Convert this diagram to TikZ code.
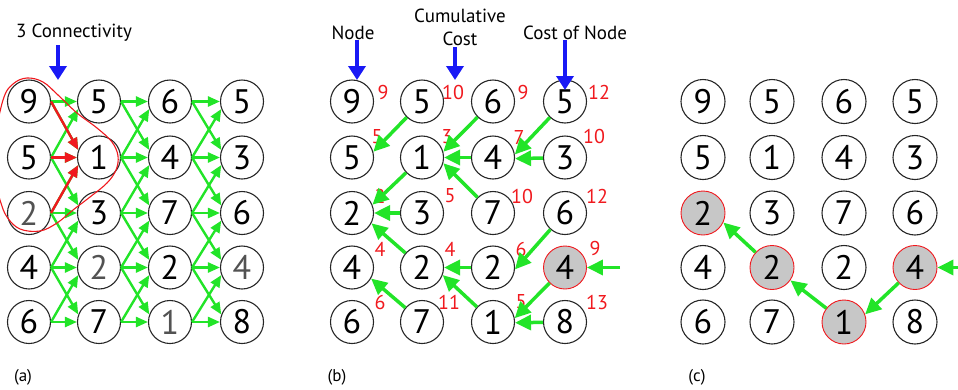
\documentclass[tikz,border=0pt]{standalone}
\usepackage{fontspec}
\setmainfont{PT Sans}
\usetikzlibrary{arrows.meta}
\definecolor{grn}{RGB}{34,228,40}
\definecolor{rd}{RGB}{240,25,30}
\definecolor{blu}{RGB}{25,25,245}
\begin{document}
\begin{tikzpicture}[x=1pt,y=-1pt,
  cir/.style={circle,draw=black!85,line width=1.1pt,minimum size=43pt,inner sep=0pt,font=\fontsize{34}{34}\selectfont},
  circ/.style={cir,minimum size=44pt},
  dim/.style={text=black!68},
  pth/.style={fill=black!22,draw=rd,line width=0.9pt},
  lbl/.style={font=\fontsize{19}{23}\selectfont,align=center,inner sep=0pt},
  cost/.style={text=rd,font=\fontsize{20}{20}\selectfont,inner sep=0pt},
  plbl/.style={font=\fontsize{17}{17}\selectfont,inner sep=0pt},
  ga/.style={draw=grn,line width=2.4pt,-{Triangle[length=12pt,width=10pt]}},
  ra/.style={draw=rd,line width=2.4pt,-{Triangle[length=12pt,width=10pt]}},
  gb/.style={draw=grn,line width=3.5pt,-{Triangle[length=16pt,width=15pt]}},
  ba/.style={draw=blu,line width=3.5pt,-{Triangle[length=14pt,width=17pt]}},
  curve/.style={draw=rd,line width=1.1pt}
]
\useasboundingbox (0,0) rectangle (958,389);

% ---------------- panel (a)
\node[cir] (a11) at (29,101.5) {9};
\node[cir] (a12) at (99,101.5) {5};
\node[cir] (a13) at (170,101.5) {6};
\node[cir] (a14) at (242,101.5) {5};
\node[cir] (a21) at (29,157.5) {5};
\node[cir] (a22) at (99,157.5) {1};
\node[cir] (a23) at (170,157.5) {4};
\node[cir] (a24) at (242,157.5) {3};
\node[cir,dim] (a31) at (29,213) {2};
\node[cir] (a32) at (99,213) {3};
\node[cir] (a33) at (170,213) {7};
\node[cir] (a34) at (242,213) {6};
\node[cir] (a41) at (29,267.5) {4};
\node[cir,dim] (a42) at (99,267.5) {2};
\node[cir] (a43) at (170,267.5) {2};
\node[cir,dim] (a44) at (242,267.5) {4};
\node[cir] (a51) at (29,322) {6};
\node[cir] (a52) at (99,322) {7};
\node[cir,dim] (a53) at (170,322) {1};
\node[cir] (a54) at (242,322) {8};

\foreach \j [evaluate=\j as \k using int(\j+1)] in {1,2,3} {
  \foreach \i [evaluate=\i as \u using int(\i-1), evaluate=\i as \d using int(\i+1)] in {1,2,3,4,5} {
    \draw[ga] (a\i\j.east) -- (a\i\k.west);
    \ifnum\i>1 \draw[ga] (a\i\j.east) -- (a\u\k.200); \fi
    \ifnum\i<5 \draw[ga] (a\i\j.east) -- (a\d\k.160); \fi
  }
}
\draw[ra] (a11.east) -- (a22.160);
\draw[ra] (a21.east) -- (a22.west);
\draw[ra] (a31.east) -- (a22.200);

\begin{scope}
\clip (0,0) rectangle (958,389);
\draw[curve] plot[smooth,tension=0.6] coordinates {(-8,150) (3,100) (13,84) (27,78) (43,82) (58,95) (77,113) (97,128) (112,142) (118,156) (116,170) (107,183) (90,197) (73,210) (57,223) (40,231) (20,229) (7,217) (0,200) (-8,170)};
\end{scope}

\node[lbl] (tconn) at (74,33) {3 Connectivity};
\coordinate (bas) at (58,45);
\coordinate (bae) at (58,80);
\draw[ba] (bas) -- (bae);
\node[plbl] (pa) at (23,377) {(a)};

% ---------------- panel (b)
\node[cir] (b11) at (352,101.5) {9};
\node[cir] (b12) at (422,101.5) {5};
\node[cir] (b13) at (493,101.5) {6};
\node[cir] (b14) at (565,101.5) {5};
\node[cir] (b21) at (352,157.5) {5};
\node[cir] (b22) at (422,157.5) {1};
\node[cir] (b23) at (493,157.5) {4};
\node[cir] (b24) at (565,157.5) {3};
\node[cir] (b31) at (352,213) {2};
\node[cir] (b32) at (422,213) {3};
\node[cir] (b33) at (493,213) {7};
\node[cir] (b34) at (565,213) {6};
\node[cir] (b41) at (352,267.5) {4};
\node[cir] (b42) at (422,267.5) {2};
\node[cir] (b43) at (493,267.5) {2};
\node[cir,pth] (b44) at (565,267.5) {4};
\node[cir] (b51) at (352,322) {6};
\node[cir] (b52) at (422,322) {7};
\node[cir] (b53) at (493,322) {1};
\node[cir] (b54) at (565,322) {8};

\node[cost] (c-b11) at (383,92) {9};
\node[cost] (c-b12) at (453,92) {10};
\node[cost] (c-b13) at (523,92) {9};
\node[cost] (c-b14) at (599,92) {12};
\node[cost] (c-b21) at (377,137) {5};
\node[cost] (c-b22) at (447,137) {3};
\node[cost] (c-b23) at (519,137) {7};
\node[cost] (c-b24) at (594,136) {10};
\node[cost] (c-b31) at (380,196) {2};
\node[cost] (c-b32) at (450,196) {5};
\node[cost] (c-b33) at (522,196) {10};
\node[cost] (c-b34) at (597,196) {12};
\node[cost] (c-b41) at (380,249) {4};
\node[cost] (c-b42) at (450,249) {4};
\node[cost] (c-b43) at (521,249) {6};
\node[cost] (c-b44) at (595,248) {9};
\node[cost] (c-b51) at (380,302) {6};
\node[cost] (c-b52) at (449,302) {11};
\node[cost] (c-b53) at (521,302) {5};
\node[cost] (c-b54) at (597,302) {13};

\draw[gb] (b12) -- (b21.15);
\draw[gb] (b13) -- (b22.15);
\draw[gb] (b23) -- (b22.east);
\draw[gb] (b33) -- (b22.-15);
\draw[gb] (b14) -- (b23.8);
\draw[gb] (b24) -- (b23.-3);
\draw[gb] (b22) -- (b31.22);
\draw[gb] (b32) -- (b31.east);
\draw[gb] (b42) -- (b31.-28);
\draw[gb] (b43) -- (b42.east);
\draw[gb] (b53) -- (b42.-20);
\draw[gb] (b34) -- (b43.-5);
\draw[gb] (b52) -- (b41.-30);
\draw[gb] (b44) -- (b53.10);
\draw[gb] (b54) -- (b53.-2);
\coordinate (fb) at (620,267.5);
\draw[gb] (fb) -- (b44.east);

\node[lbl] (tnode) at (353,33) {Node};
\node[lbl] (tcum) at (460,27) {Cumulative\\Cost};
\node[lbl] (tcost) at (575,33) {Cost of Node};
\coordinate (bbs) at (357,40);
\coordinate (bbe) at (357,80);
\draw[ba] (bbs) -- (bbe);
\coordinate (bcs) at (455,47);
\coordinate (bce) at (455,80);
\draw[ba] (bcs) -- (bce);
\coordinate (bds) at (565,40);
\coordinate (bde) at (565,90);
\draw[ba] (bds) -- (bde);
\node[plbl] (pb) at (337,377) {(b)};

% ---------------- panel (c)
\node[circ] (c11) at (703,101.5) {9};
\node[circ] (c12) at (772,101.5) {5};
\node[circ] (c13) at (844,101.5) {6};
\node[circ] (c14) at (915,101.5) {5};
\node[circ] (c21) at (703,157.5) {5};
\node[circ] (c22) at (772,157.5) {1};
\node[circ] (c23) at (844,157.5) {4};
\node[circ] (c24) at (915,157.5) {3};
\node[circ,pth] (c31) at (703,213) {2};
\node[circ] (c32) at (772,213) {3};
\node[circ] (c33) at (844,213) {7};
\node[circ] (c34) at (915,213) {6};
\node[circ] (c41) at (703,267.5) {4};
\node[circ,pth] (c42) at (772,267.5) {2};
\node[circ] (c43) at (844,267.5) {2};
\node[circ,pth] (c44) at (915,267.5) {4};
\node[circ] (c51) at (703,322) {6};
\node[circ] (c52) at (772,322) {7};
\node[circ,pth] (c53) at (844,322) {1};
\node[circ] (c54) at (915,322) {8};

\coordinate (fc) at (958,267.5);
\draw[gb] (fc) -- (c44.east);
\draw[gb] (c44) -- (c53.20);
\draw[gb] (c53) -- (c42.-35);
\draw[gb] (c42) -- (c31.-25);
\node[plbl] (pc) at (697,377) {(c)};
\end{tikzpicture}
\end{document}
